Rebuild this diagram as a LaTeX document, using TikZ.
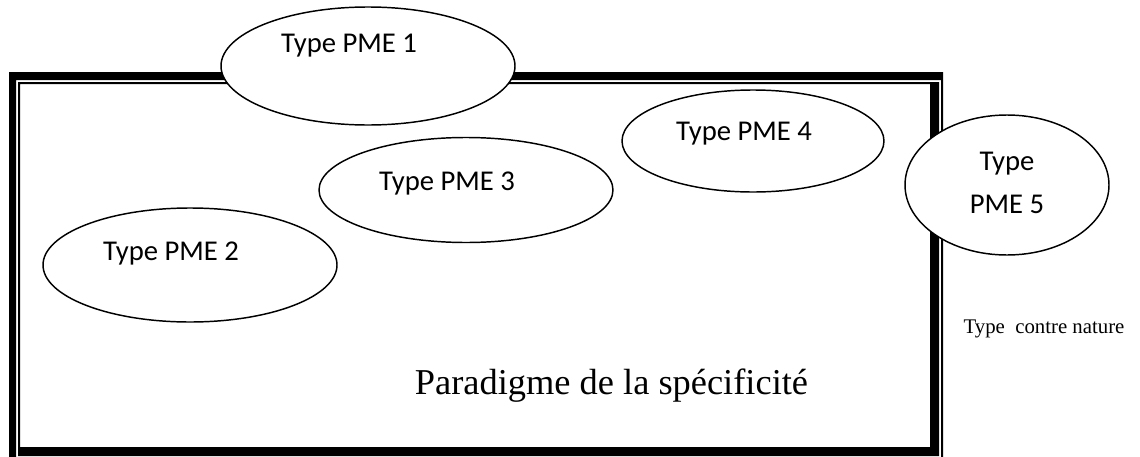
\documentclass[tikz,border=0pt]{standalone}
\usepackage{fontspec}
\setmainfont{Liberation Serif}
\newfontfamily\calfont{Carlito}
\usetikzlibrary{shapes.geometric}
\tikzset{
  pme/.style={ellipse, draw=black, fill=white, line width=1.1pt, inner sep=0pt},
  pmetext/.style={anchor=base, inner sep=0pt, font=\calfont\fontsize{21.5}{26}\selectfont},
}
\begin{document}
\begin{tikzpicture}[x=0.75pt,y=-0.75pt]
\useasboundingbox (0,0) rectangle (1140,457);
% frame: inner (thin top/left, thick bottom/right) and outer (thick top/left, thin bottom/right)
\fill[black,even odd rule] (18,82) rectangle (939,456) (20,84) rectangle (930,447);
\fill[black,even odd rule] (9,72) rectangle (943,460) (16,80) rectangle (941,458);
% ellipses
\node[pme, minimum width=220.5pt, minimum height=88.5pt] (e1) at (368,66) {};
\node[pme, minimum width=220.5pt, minimum height=85.5pt] (e2) at (190,265) {};
\node[pme, minimum width=220.5pt, minimum height=78.75pt] (e3) at (466,190) {};
\node[pme, minimum width=196.5pt, minimum height=76.5pt] (e4) at (753,141) {};
\node[pme, minimum width=153pt, minimum height=105pt] (e5) at (1007,185) {};
% labels
\node[pmetext] (t1) at (349,52) {Type PME 1};
\node[pmetext] (t2) at (171,260) {Type PME 2};
\node[pmetext] (t3) at (447,190) {Type PME 3};
\node[pmetext] (t4) at (744,140) {Type PME 4};
\node[pmetext] (t5a) at (1007,170) {Type};
\node[pmetext] (t5b) at (1007,213) {PME 5};
\node[anchor=base, inner sep=0pt, font=\fontsize{27.3}{32}\selectfont] (par) at (611.5,394) {Paradigme de la spécificité};
\node[anchor=base, inner sep=0pt, font=\fontsize{15.6}{19}\selectfont] (cn) at (1044,333) {Type\ \ contre nature};
\end{tikzpicture}
\end{document}
